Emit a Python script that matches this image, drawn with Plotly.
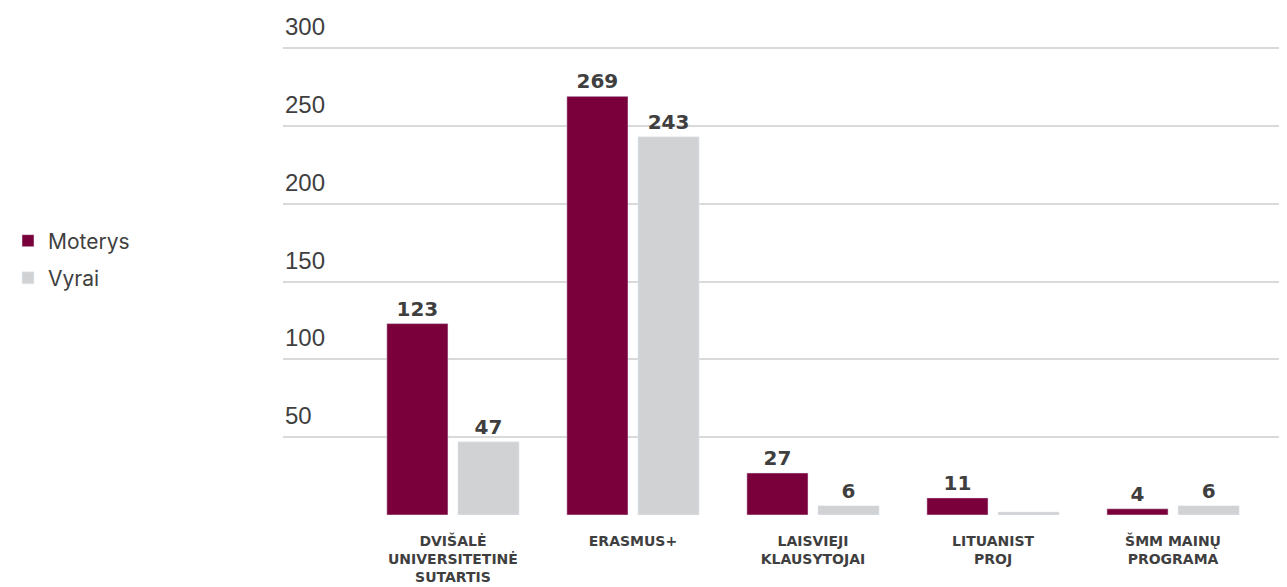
import plotly.graph_objects as go

categories = ["DVIŠALĖ<br>UNIVERSITETINĖ<br>SUTARTIS", "ERASMUS+", "LAISVIEJI<br>KLAUSYTOJAI", "LITUANIST<br>PROJ", "ŠMM MAINŲ<br>PROGRAMA"]
moterys = [123, 269, 27, 11, 4]
vyrai = [47, 243, 6, 2, 6]
vyrai_labels = ["47", "243", "6", "", "6"]
moterys_labels = [str(v) for v in moterys]
y_ticks = [50, 100, 150, 200, 250, 300]

MAROON = "#7a003c"
GREY = "#d1d2d4"
TXT = "#3f3f3f"
FONT = "Inter, Roboto, sans-serif"
BOLD = "DejaVu Sans, sans-serif"

fig = go.Figure()
fig.add_trace(go.Bar(name="Moterys", x=categories, y=moterys, marker_color=MAROON,
                     text=moterys_labels, textposition="outside", cliponaxis=False,
                     textfont=dict(size=20, color=TXT, family=BOLD, weight="bold"),
                     legend="legend"))
fig.add_trace(go.Bar(name="Vyrai", x=categories, y=vyrai, marker_color=GREY,
                     text=vyrai_labels, textposition="outside", cliponaxis=False,
                     textfont=dict(size=20, color=TXT, family=BOLD, weight="bold"),
                     legend="legend2"))

for t in y_ticks:
    fig.add_annotation(x=0, xref="paper", y=t, yref="y", text=str(t), showarrow=False,
                       xanchor="left", yanchor="bottom", yshift=6,
                       font=dict(size=24, color=TXT, family="Liberation Sans, Arial, sans-serif"))

leg_common = dict(xanchor="left", yanchor="middle", font=dict(size=21, color=TXT, family=FONT),
                  bgcolor="rgba(0,0,0,0)", borderwidth=0)
fig.update_layout(
    width=1279, height=579,
    margin=dict(l=275, r=0, t=37, b=72),
    paper_bgcolor="white", plot_bgcolor="white",
    barmode="group", bargap=0.21, bargroupgap=0.14,
    showlegend=True,
    legend=dict(x=-0.274, y=0.583, **leg_common),
    legend2=dict(x=-0.274, y=0.504, **leg_common),
    font=dict(family=FONT, color=TXT),
)
fig.update_xaxes(range=[-0.944, 4.633], showgrid=False, zeroline=False, showline=False,
                 ticks="", tickfont=dict(size=14, color=TXT, family=BOLD, weight="bold"),
                 ticklabelstandoff=16)
fig.update_yaxes(range=[0, 302], tickvals=y_ticks, showticklabels=False, showgrid=True,
                 gridcolor="#d9d9d9", gridwidth=2, zeroline=False, showline=False, ticks="")

fig.write_html("out.html")
